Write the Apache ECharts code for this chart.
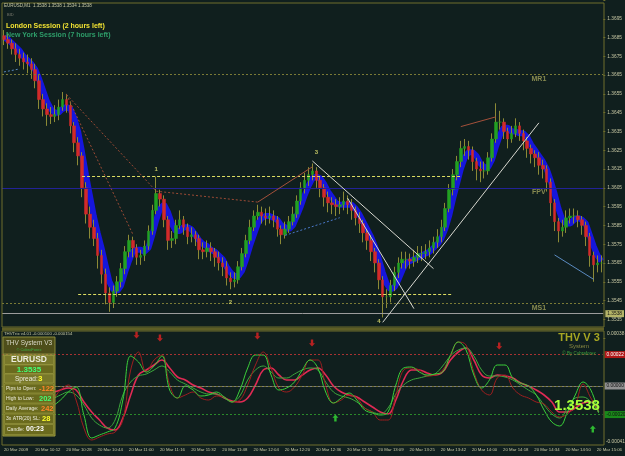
<!DOCTYPE html>
<html>
<head>
<meta charset="utf-8">
<title>EURUSD,M1</title>
<script src="https://cdn.jsdelivr.net/npm/echarts@6/dist/echarts.min.js"></script>
<style>
  html, body { margin: 0; padding: 0; background: #101f1e; }
  #chart { width: 625px; height: 456px; }
</style>
</head>
<body>
<div id="chart"></div>
<script>
// time axis: one label every 8 bars (bars are 2 minutes here)
const timeLabels = ['20 Mar 2009', '20 Mar 10:12', '20 Mar 10:28', '20 Mar 10:44', '20 Mar 11:00',
  '20 Mar 11:16', '20 Mar 11:32', '20 Mar 11:48', '20 Mar 12:04', '20 Mar 12:20', '20 Mar 12:36',
  '20 Mar 12:52', '20 Mar 13:09', '20 Mar 13:25', '20 Mar 13:42', '20 Mar 14:00', '20 Mar 14:18',
  '20 Mar 14:34', '20 Mar 14:50', '20 Mar 15:06']

// prices in pips above 1.3500
const openPips = [186,184,182,179,176,174,172,171,168,162, 152,147,144,143,144,148,152,149,138,129,
  122,105,91,84,78,69,59,49,44,50, 55,62,71,77,73,68,69,74,82,93,
  102,99,88,77,78,85,88,84,79,80, 78,72,71,73,71,68,65,63,57,55,
  56,63,70,77,84,90,92,90,89,90, 88,83,80,83,87,91,98,105,109,112,
  114,109,105,100,97,96,95,96,98,96, 93,89,86,81,77,71,65,56,47,47,
  53,60,65,67,67,66,68,70,70,71, 73,76,79,84,94,104,112,119,126,127,
  125,119,115,114,114,121,131,140,140,135, 131,134,138,134,130,126,123,121,117,115,
  108,97,87,82,84,89,90,90,88,85, 79,69,64,65]
const closePips = [184,182,179,176,174,172,171,168,162,152, 147,144,143,144,148,152,149,138,129,122,
  105,91,84,78,69,59,49,44,50,55, 62,71,77,73,68,69,74,82,93,102,
  99,88,77,78,85,88,84,79,80,78, 72,71,73,71,68,65,63,57,55,56,
  63,70,77,84,90,92,90,89,90,88, 83,80,83,87,91,98,105,109,112,114,
  109,105,100,97,96,95,96,98,96,93, 89,86,81,77,71,65,56,47,47,53,
  60,65,67,67,66,68,70,70,71,73, 76,79,84,94,104,112,119,126,127,125,
  119,115,114,114,121,131,140,140,135,131, 134,138,134,130,126,123,121,117,115,108,
  97,87,82,84,89,90,90,88,85,79, 69,64,65,65]
const highPips = [189,187,184,182,179,177,176,174,171,165, 155,150,148,149,152,156,155,151,140,132,
  124,108,95,88,81,72,62,52,53,58, 65,74,80,79,75,72,77,85,96,111,
  104,101,90,82,88,93,90,86,84,82, 80,76,77,76,73,71,68,66,60,60,
  66,73,80,88,93,96,95,94,95,93, 90,85,87,90,95,101,108,113,116,118,
  116,111,107,103,100,99,100,103,101,99, 95,92,88,83,80,73,67,58,51,56,
  63,68,71,71,70,72,74,74,75,77, 79,83,88,97,107,115,122,130,131,130,
  127,121,119,119,124,134,150,146,142,137, 138,142,140,136,132,128,125,124,120,117,
  110,99,89,88,93,94,94,93,90,87, 81,71,69,69]
const lowPips = [181,179,176,172,170,168,166,163,158,147, 143,138,139,140,141,146,145,134,124,117,
  100,86,78,74,62,54,43,39,41,47, 52,59,68,68,64,64,66,72,80,91,
  95,84,72,73,75,83,80,75,76,74, 67,67,68,66,63,61,58,53,51,52,
  54,61,68,75,82,88,86,85,86,84, 79,75,78,81,85,89,96,102,106,109,
  105,100,95,92,91,90,91,93,91,88, 85,81,76,72,66,60,51,36,41,44,
  50,57,62,62,62,63,65,66,67,68, 70,73,76,82,92,101,109,116,122,120,
  114,109,108,110,112,119,129,136,131,126, 129,132,130,125,121,118,116,112,110,103,
  90,82,76,79,81,86,86,84,80,74, 63,55,60,60]
// thick blue moving average
const maPips = [185,184,182,180,178,175,173,171,168,163, 157,151,147,145,145,147,148,147,142,135,
  124,112,101,90,81,73,64,55,51,50, 53,60,66,71,72,72,71,73,80,88,
  94,96,92,86,82,82,84,84,83,80, 77,75,74,72,71,69,67,63,60,58,
  58,61,67,74,80,86,89,90,90,89, 88,85,84,83,85,90,95,101,106,110,
  111,110,107,103,100,97,96,96,96,96, 94,91,87,83,79,74,67,60,54,51,
  52,56,61,65,66,67,68,69,70,71, 73,75,78,83,90,99,107,115,121,124,
  124,122,118,116,116,120,127,133,137,137, 135,135,134,134,132,128,125,122,119,115,
  109,102,94,88,86,86,88,89,88,86, 80,74,69,66]

// THVTrix oscillator, 4 minute steps, values in 1e-6
const trixFastGreen = [-98,-63,7,42,7,-63,-133,-98,-42,-7, -203,-364,-343,-322,-294,-98,210,168,98,140,
  210,-28,-84,0,-28,-70,-63,-42,-77,-112, -28,126,217,217,77,-28,-14,28,112,182,
  126,-42,-119,-84,-49,-98,-168,-189,-203,-182, 7,126,133,98,77,84,98,217,308,252,
  77,-14,42,147,147,56,21,0,-63,-168, -252,-280,-182,-63,28,-28,-189]
const trixFastRed = [-63,-84,-42,7,28,-14,-84,-28,7,-98, -294,-378,-357,-336,-322,-238,112,238,98,182,
  217,7,-84,-63,-42,-84,-98,-70,-77,-112, -98,7,147,238,126,-14,-42,-7,77,182,
  182,7,-119,-98,-63,-84,-154,-182,-238,-238, -63,112,126,112,70,77,112,210,308,287,
  98,-28,-63,56,77,-14,-63,-84,-112,-126, -182,-217,-196,-133,14,-84,-168]
const trixSlowRed = [-28,-42,-28,-14,0,-14,-42,-28,-14,-28, -112,-182,-238,-294,-308,-224,-63,77,112,147,
  182,126,63,42,7,-14,-42,-56,-84,-105, -112,-84,7,112,126,77,42,42,77,112,
  126,77,0,-42,-63,-77,-112,-147,-182,-196, -98,42,112,112,91,77,98,182,238,266,
  182,77,56,77,70,56,21,0,-28,-63, -112,-182,-182,-154,-119,-112,-182]
const trixSlowGreen = [-133,-112,-63,-28,-14,-42,-84,-63,-42,-63, -133,-224,-273,-294,-238,-63,28,70,84,112,
  140,98,42,14,-14,-42,-56,-56,-84,-112, -70,42,112,140,98,56,56,84,112,126,
  112,28,-42,-70,-84,-112,-154,-182,-196,-154, -56,7,42,56,70,84,140,210,252,266,
  210,112,70,70,63,42,7,-28,-63,-133, -196,-224,-154,-84,-77,-112,-182]
// signal arrows [bar, value 1e-6]
const sellArrows = [[34, 357], [40, 336], [65, 350], [79, 301], [127, 280]]
const buyArrows = [[85, -224], [151, -301]]

const P = (v) => +(1.35 + v / 10000).toFixed(5)
const E6 = (v) => v / 1e6
const cats = openPips.map((_, i) => String(i))
const cats4 = trixFastGreen.map((_, i) => String(i))

const rangeData = openPips.map((o, i) => [P(o), P(closePips[i]), P(lowPips[i]), P(highPips[i])])
const bodyData = openPips.map((o, i) => {
  const c = closePips[i]
  return [P(o), P(c), P(Math.min(o, c)), P(Math.max(o, c))]
})

const OLIVE = "#6e6e2c"
const AXTXT = "#c8c8a4"
const FONT = "Liberation Sans"

const seg = (a, b, color, type) => [
  { coord: a, lineStyle: { color, type, width: 1 } },
  { coord: b },
]

const chart = echarts.init(document.getElementById("chart"))

const option = {
  backgroundColor: "#101f1e",
  animation: false,
  textStyle: { fontFamily: FONT },
  grid: [
    { left: 2, right: 21, top: -7.5, height: 345.6 },
    { left: 2, right: 21, top: 331, height: 114 },
  ],
  xAxis: [
    { type: "category", gridIndex: 0, data: cats, show: false },
    {
      type: "category",
      gridIndex: 1,
      data: cats,
      axisLine: { lineStyle: { color: OLIVE } },
      axisTick: { alignWithLabel: true, length: 2, interval: (i) => i % 8 === 0, lineStyle: { color: OLIVE } },
      axisLabel: {
        interval: (i) => i % 8 === 0,
        formatter: (v, i) => timeLabels[i / 8] || "",
        color: AXTXT,
        fontSize: 4.3,
        align: "left",
        margin: 3,
      },
    },
    { type: "category", gridIndex: 1, data: cats4, show: false },
  ],
  yAxis: [
    {
      type: "value",
      gridIndex: 0,
      position: "right",
      min: 1.3525,
      max: 1.3705,
      interval: 0.001,
      splitLine: { show: false },
      axisLine: { show: false },
      axisTick: { show: true, length: 2, lineStyle: { color: OLIVE } },
      axisLabel: {
        color: AXTXT,
        fontSize: 4.8,
        margin: 4,
        formatter: (v) => (v < 1.353 || v > 1.37 ? "" : v.toFixed(4)),
      },
    },
    {
      type: "value",
      gridIndex: 1,
      position: "right",
      min: -0.000413,
      max: 0.000385,
      splitLine: { show: false },
      axisLine: { show: false },
      axisTick: { show: false },
      axisLabel: { show: false },
    },
  ],
  series: [
    {
      name: "MA",
      type: "line",
      data: maPips.map(P),
      showSymbol: false,
      lineStyle: { color: "#1616dc", width: 6 },
      z: 1,
    },
    {
      name: "range",
      type: "candlestick",
      data: rangeData,
      barWidth: 1,
      itemStyle: { color: "#8c8a36", color0: "#8c8a36", borderColor: "#8c8a36", borderColor0: "#8c8a36", borderWidth: 1 },
      z: 2,
    },
    {
      name: "body",
      type: "candlestick",
      data: bodyData,
      barWidth: 3,
      itemStyle: { color: "#22a022", color0: "#d22a2a", borderColor: "#22a022", borderColor0: "#d22a2a", borderWidth: 0.5 },
      z: 3,
    },
    {
      name: "levels",
      type: "line",
      data: [],
      z: 4,
      markLine: {
        silent: true,
        precision: 5,
        symbol: ["none", "none"],
        label: { show: false },
        data: [
          { yAxis: 1.36657, lineStyle: { color: "#7a7a36", type: [2, 2], width: 1 } },
          { yAxis: 1.3605, lineStyle: { color: "#222296", type: "solid", width: 1 } },
          { yAxis: 1.35438, lineStyle: { color: "#7a7a36", type: [2, 2], width: 1 } },
          {
            yAxis: 1.3538,
            lineStyle: { color: "#9c9c9c", type: "solid", width: 1 },
            label: {
              show: true, position: "end", formatter: "1.3538", fontSize: 4.8, color: "#101010",
              backgroundColor: "#b4b468", padding: [1, 2], distance: 2,
            },
          },
          seg([20, 1.3611], [117, 1.3611], "#dede62", [3, 2]),
          seg([19, 1.35485], [115, 1.35485], "#dede62", [3, 2]),
          seg([16, 1.36547], [39, 1.36032], "#9c4a34", [2, 2]),
          seg([16, 1.36547], [33, 1.35803], "#9c4a34", [2, 2]),
          seg([39, 1.36032], [65, 1.35974], "#9c4a34", [2, 2]),
          seg([65, 1.35974], [79, 1.36162], "#a4503a", "solid"),
          seg([117, 1.36376], [126, 1.36428], "#a4503a", "solid"),
          seg([72, 1.35797], [86, 1.35891], "#4a78c8", [2, 2]),
          seg([141, 1.35693], [151, 1.35563], "#5a8ac0", "solid"),
          seg([0, 1.36667], [4, 1.36683], "#5a8ac0", [2, 2]),
          seg([79, 1.36193], [110, 1.3562], "#d8d8d0", "solid"),
          seg([88, 1.35995], [105, 1.35407], "#d8d8d0", "solid"),
          seg([97, 1.35334], [137, 1.36396], "#d8d8d0", "solid"),
        ],
      },
    },
    {
      name: "marks",
      type: "scatter",
      symbolSize: 1,
      itemStyle: { color: "rgba(0,0,0,0)" },
      z: 5,
      data: [
        { value: [39, 1.36146], label: { formatter: "1", color: "#e8e872" } },
        { value: [58, 1.35443], label: { formatter: "2", color: "#e8e872" } },
        { value: [80, 1.3624], label: { formatter: "3", color: "#e8e872" } },
        { value: [96, 1.35339], label: { formatter: "4", color: "#e8e872" } },
        { value: [137, 1.36631], label: { formatter: "MR1", color: "#a4a45c", fontSize: 7 } },
        { value: [137, 1.36029], label: { formatter: "FPV", color: "#a4a45c", fontSize: 7 } },
        { value: [137, 1.35412], label: { formatter: "MS1", color: "#a4a45c", fontSize: 7 } },
      ],
      label: { show: true, position: "inside", fontSize: 6, fontWeight: "bold" },
    },
    {
      name: "slowRed",
      type: "line",
      xAxisIndex: 2,
      yAxisIndex: 1,
      data: trixSlowRed.map(E6),
      smooth: 0.4,
      showSymbol: false,
      lineStyle: { color: "#e02a54", width: 1.6 },
    },
    {
      name: "slowGreen",
      type: "line",
      xAxisIndex: 2,
      yAxisIndex: 1,
      data: trixSlowGreen.map(E6),
      smooth: 0.4,
      showSymbol: false,
      lineStyle: { color: "#3ca83c", width: 1 },
    },
    {
      name: "fastRed",
      type: "line",
      xAxisIndex: 2,
      yAxisIndex: 1,
      data: trixFastRed.map(E6),
      smooth: 0.4,
      showSymbol: false,
      lineStyle: { color: "#9e1e1e", width: 1 },
    },
    {
      name: "fastGreen",
      type: "line",
      xAxisIndex: 2,
      yAxisIndex: 1,
      data: trixFastGreen.map(E6),
      smooth: 0.4,
      showSymbol: false,
      lineStyle: { color: "#3ad03a", width: 1 },
    },
    {
      name: "trixLevels",
      type: "line",
      xAxisIndex: 2,
      yAxisIndex: 1,
      data: [],
      z: 1,
      markLine: {
        silent: true,
        precision: 6,
        symbol: ["none", "none"],
        data: [
          {
            yAxis: 0.00022,
            lineStyle: { color: "#a83232", type: [2, 2], width: 1 },
            label: { position: "end", formatter: "0.00022", color: "#ffffff", backgroundColor: "#b01818", fontSize: 4.8, padding: [1, 2], distance: 2 },
          },
          {
            yAxis: 0,
            lineStyle: { color: "#7c7c7c", type: [2, 2], width: 1 },
            label: { position: "end", formatter: "0.00000", color: "#101010", backgroundColor: "#909090", fontSize: 4.8, padding: [1, 2], distance: 2 },
          },
          {
            yAxis: -0.0002,
            lineStyle: { color: "#2a8a2a", type: [2, 2], width: 1 },
            label: { position: "end", formatter: "-0.00020", color: "#101010", backgroundColor: "#1a8a1a", fontSize: 4.8, padding: [1, 2], distance: 2 },
          },
        ],
      },
    },
    {
      name: "sell",
      type: "scatter",
      xAxisIndex: 1,
      yAxisIndex: 1,
      data: sellArrows.map((d) => [d[0], E6(d[1])]),
      symbol: "path://M3,0L7,0L7,6L10,6L5,11L0,6L3,6Z",
      symbolSize: [6, 7],
      itemStyle: { color: "#e02222" },
    },
    {
      name: "buy",
      type: "scatter",
      xAxisIndex: 1,
      yAxisIndex: 1,
      data: buyArrows.map((d) => [d[0], E6(d[1])]),
      symbol: "path://M5,0L10,5L7,5L7,11L3,11L3,5L0,5Z",
      symbolSize: [6, 7],
      itemStyle: { color: "#36e036" },
    },
  ],
  graphic: [
    // panel frames
    { type: "rect", shape: { x: 2, y: 3, width: 602, height: 324 }, style: { fill: "none", stroke: OLIVE, lineWidth: 1 }, z: 50 },
    { type: "rect", shape: { x: 2, y: 327.5, width: 602, height: 3 }, style: { fill: "#5e5e26" }, z: 50 },
    { type: "rect", shape: { x: 2, y: 331, width: 602, height: 114 }, style: { fill: "none", stroke: OLIVE, lineWidth: 1 }, z: 50 },
    // chart header texts
    { type: "text", z: 60, style: { text: "EURUSD,M1  1.3538 1.3538 1.3534 1.3538", x: 4, y: 6, fill: AXTXT, font: `4.5px "${FONT}"`, textVerticalAlign: "middle" } },
    { type: "text", z: 60, style: { text: "BID", x: 7, y: 15, fill: "#7c7c70", font: `4px "${FONT}"`, textVerticalAlign: "middle" } },
    { type: "text", z: 60, style: { text: "London Session (2 hours left)", x: 6, y: 26, fill: "#f2e232", font: `bold 7px "${FONT}"`, textVerticalAlign: "middle" } },
    { type: "text", z: 60, style: { text: "New York Session (7 hours left)", x: 6, y: 35, fill: "#2e9e6a", font: `bold 7px "${FONT}"`, textVerticalAlign: "middle" } },
    // indicator window texts
    { type: "text", z: 60, style: { text: "THVTrix v4.01 -0.000100 -0.000154", x: 4, y: 334, fill: AXTXT, font: `4.3px "${FONT}"`, textVerticalAlign: "middle" } },
    { type: "text", z: 60, style: { text: "0.00038", x: 607, y: 334, fill: AXTXT, font: `4.8px "${FONT}"`, textVerticalAlign: "middle" } },
    { type: "text", z: 60, style: { text: "-0.00041", x: 606, y: 442, fill: AXTXT, font: `4.8px "${FONT}"`, textVerticalAlign: "middle" } },
    { type: "text", z: 60, style: { text: "THV V 3", x: 579, y: 338, fill: "#a6a622", font: `bold 11px "${FONT}"`, textAlign: "center", textVerticalAlign: "middle" } },
    { type: "text", z: 60, style: { text: "System", x: 579, y: 346, fill: "#8a8a42", font: `6px "${FONT}"`, textAlign: "center", textVerticalAlign: "middle" } },
    { type: "text", z: 60, style: { text: "© By Cobraforex", x: 579, y: 354, fill: "#3ca23c", font: `4.5px "${FONT}"`, textAlign: "center", textVerticalAlign: "middle" } },
    { type: "text", z: 60, style: { text: "1.3538", x: 577, y: 406, fill: "#a8ff3a", font: `bold 15px "${FONT}"`, textAlign: "center", textVerticalAlign: "middle" } },
    // info box
    { type: "rect", z: 70, shape: { x: 3, y: 337, width: 52, height: 17 }, style: { fill: "#4e4e1a", stroke: "#8a8a3a", lineWidth: 1 } },
    { type: "text", z: 71, style: { text: "THV System V3", x: 29, y: 343, fill: "#d8d8c8", font: `6.5px "${FONT}"`, textAlign: "center", textVerticalAlign: "middle" } },
    { type: "text", z: 71, style: { text: "© CobraForex", x: 29, y: 350, fill: "#3cb043", font: `4px "${FONT}"`, textAlign: "center", textVerticalAlign: "middle" } },
    { type: "rect", z: 70, shape: { x: 3, y: 355, width: 52, height: 81 }, style: { fill: "#6a6a1e", stroke: "#9c9c40", lineWidth: 1 } },
    { type: "rect", z: 70, shape: { x: 4.5, y: 355.5, width: 49, height: 9 }, style: { fill: "#78782a", stroke: "#a4a44a", lineWidth: 0.5 } },
    { type: "rect", z: 70, shape: { x: 4.5, y: 365, width: 49, height: 8.5 }, style: { fill: "#6a6a1e", stroke: "#a4a44a", lineWidth: 0.5 } },
    { type: "rect", z: 70, shape: { x: 4.5, y: 374, width: 49, height: 9 }, style: { fill: "#78782a", stroke: "#a4a44a", lineWidth: 0.5 } },
    { type: "rect", z: 70, shape: { x: 4.5, y: 384, width: 49, height: 9 }, style: { fill: "#6a6a1e", stroke: "#a4a44a", lineWidth: 0.5 } },
    { type: "rect", z: 70, shape: { x: 4.5, y: 394, width: 49, height: 9 }, style: { fill: "#6a6a1e", stroke: "#a4a44a", lineWidth: 0.5 } },
    { type: "rect", z: 70, shape: { x: 4.5, y: 404, width: 49, height: 9 }, style: { fill: "#6a6a1e", stroke: "#a4a44a", lineWidth: 0.5 } },
    { type: "rect", z: 70, shape: { x: 4.5, y: 414, width: 49, height: 9.5 }, style: { fill: "#6a6a1e", stroke: "#a4a44a", lineWidth: 0.5 } },
    { type: "rect", z: 70, shape: { x: 4.5, y: 424.5, width: 49, height: 10 }, style: { fill: "#6a6a1e", stroke: "#a4a44a", lineWidth: 0.5 } },
    { type: "text", z: 71, style: { text: "EURUSD", x: 29, y: 360, fill: "#ececdc", font: `bold 8.5px "${FONT}"`, textAlign: "center", textVerticalAlign: "middle" } },
    { type: "text", z: 71, style: { text: "1.3535", x: 29, y: 369.5, fill: "#44ff74", font: `bold 8px "${FONT}"`, textAlign: "center", textVerticalAlign: "middle" } },
    { type: "text", z: 71, style: { text: "Spread:", x: 15, y: 379, fill: "#ececdc", font: `6.5px "${FONT}"`, textVerticalAlign: "middle" } },
    { type: "text", z: 71, style: { text: "3", x: 38, y: 379, fill: "#ffff2a", font: `bold 8px "${FONT}"`, textVerticalAlign: "middle" } },
    { type: "text", z: 71, style: { text: "Pips to Open:", x: 6, y: 389, fill: "#ececdc", font: `5px "${FONT}"`, textVerticalAlign: "middle" } },
    { type: "text", z: 71, style: { text: "-122", x: 39, y: 389, fill: "#ff8428", font: `bold 7.5px "${FONT}"`, textVerticalAlign: "middle" } },
    { type: "text", z: 71, style: { text: "High to Low:", x: 6, y: 399, fill: "#ececdc", font: `5px "${FONT}"`, textVerticalAlign: "middle" } },
    { type: "text", z: 71, style: { text: "202", x: 39, y: 399, fill: "#44ff74", font: `bold 7.5px "${FONT}"`, textVerticalAlign: "middle" } },
    { type: "text", z: 71, style: { text: "Daily Average:", x: 6, y: 409, fill: "#ececdc", font: `5px "${FONT}"`, textVerticalAlign: "middle" } },
    { type: "text", z: 71, style: { text: "242", x: 41, y: 409, fill: "#ff8428", font: `bold 7.5px "${FONT}"`, textVerticalAlign: "middle" } },
    { type: "text", z: 71, style: { text: "3x ATR(20) SL:", x: 6, y: 419, fill: "#ececdc", font: `5px "${FONT}"`, textVerticalAlign: "middle" } },
    { type: "text", z: 71, style: { text: "28", x: 42, y: 419, fill: "#ffff2a", font: `bold 7.5px "${FONT}"`, textVerticalAlign: "middle" } },
    { type: "text", z: 71, style: { text: "Candle:", x: 7, y: 429.5, fill: "#ececdc", font: `5px "${FONT}"`, textVerticalAlign: "middle" } },
    { type: "text", z: 71, style: { text: "00:23", x: 26, y: 429.5, fill: "#ffffff", font: `bold 7px "${FONT}"`, textVerticalAlign: "middle" } },
  ],
}

chart.setOption(option)
window.addEventListener("resize", () => chart.resize())
</script>
</body>
</html>
